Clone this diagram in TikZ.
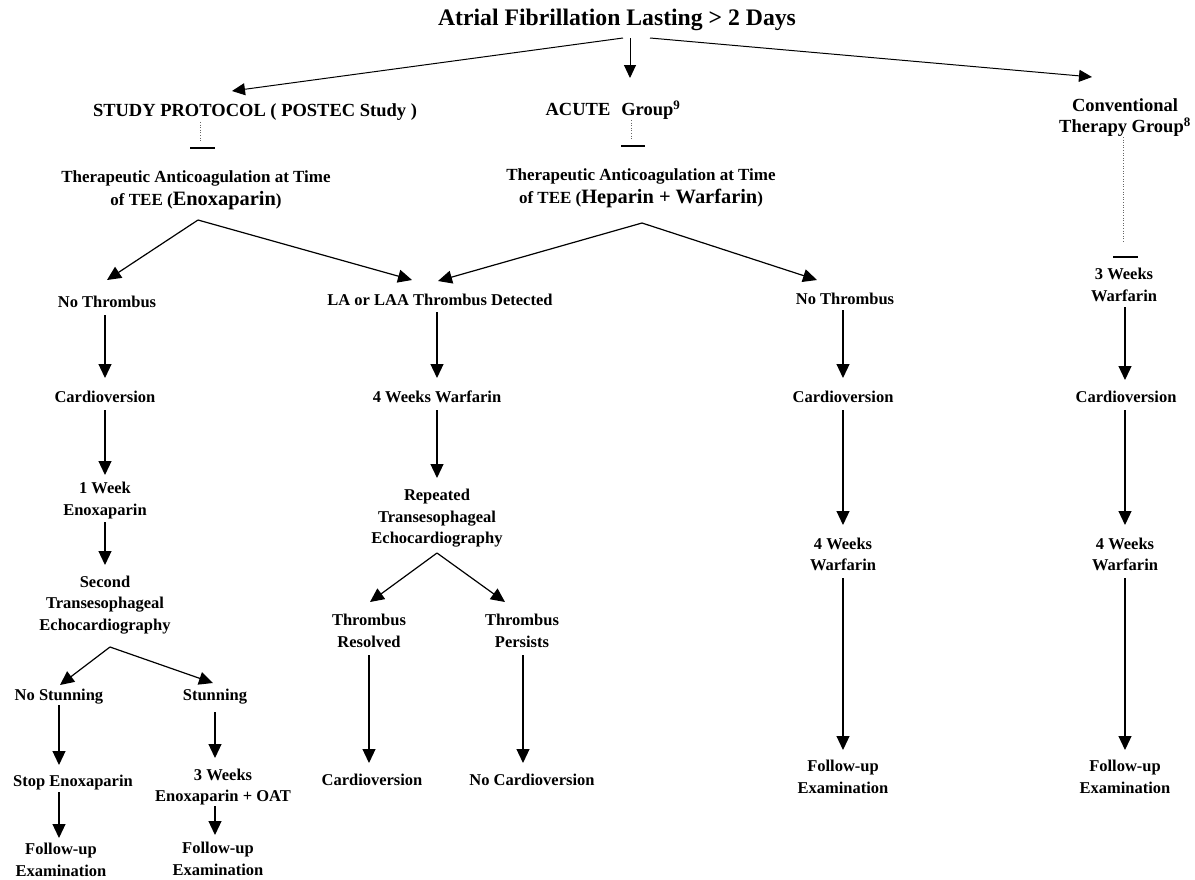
\documentclass[tikz,border=0pt]{standalone}
\usepackage{fontspec}
\setmainfont{Liberation Serif}
\usepackage{tikz}
\usetikzlibrary{arrows.meta}
\newcommand\titlefont{\fontsize{23.7}{27}\selectfont\bfseries}
\newcommand\grpfont{\fontsize{18.5}{21}\selectfont\bfseries}
\newcommand\therfont{\fontsize{17}{23}\selectfont\bfseries}
\newcommand\bodyfont{\fontsize{16.5}{21.5}\selectfont\bfseries}
\newcommand\drugfont{\fontsize{20.4}{24}\selectfont}
\tikzset{
  lbl/.style={inner sep=0pt, align=center, font=\bodyfont},
  grp/.style={inner sep=0pt, align=center, font=\grpfont},
  ther/.style={inner sep=0pt, align=center, font=\therfont},
  arr/.style={line width=1.2pt, -{Triangle[length=14pt,width=13pt]}},
  toparr/.style={line width=1pt, -{Triangle[length=13pt,width=12pt]}},
  dotline/.style={dotted, line width=0.6pt, black!60},
  tbar/.style={line width=2.2pt}
}
\begin{document}
\begin{tikzpicture}[x=1pt,y=-1pt]
\useasboundingbox (0,0) rectangle (1195,879);

% top of the chart
\node[inner sep=0pt, font=\titlefont] (title) at (617,20) {Atrial Fibrillation Lasting > 2 Days};
\node[grp] (study) at (255,112) {STUDY PROTOCOL ( POSTEC Study )};
\node[grp] (acute) at (613,110) {ACUTE\hspace{11pt}Group\textsuperscript{9}};
\node[grp] (conv) at (1125,117.5) {Conventional\\Therapy Group\textsuperscript{8}};

\draw[toparr] ([xshift=6pt,yshift=-18pt]title.center) -- ([xshift=-23pt,yshift=21pt]study.center);
\draw[toparr] ([xshift=13pt,yshift=-18pt]title.center) -- ([xshift=17pt,yshift=32pt]acute.center);
\draw[toparr] ([xshift=33pt,yshift=-18pt]title.center) -- ([xshift=-33pt,yshift=40.5pt]conv.center);

% dotted links ending in a bar
\draw[dotline] ([xshift=-55pt,yshift=-10pt]study.center) -- ++(0,20);
\draw[tbar] ([xshift=-65pt,yshift=-36pt]study.center) -- ++(25,0);
\draw[dotline] ([xshift=18pt,yshift=-10pt]acute.center) -- ++(0,20);
\draw[tbar] ([xshift=8pt,yshift=-36pt]acute.center) -- ++(24,0);
\draw[dotline] ([xshift=-2pt,yshift=-19.5pt]conv.center) -- ++(0,106);
\draw[tbar] ([xshift=-12pt,yshift=-139.5pt]conv.center) -- ++(25,0);

\node[ther] (ther1) at (196,190.5) {Therapeutic Anticoagulation at Time\\of TEE ({\drugfont Enoxaparin})};
\node[ther] (ther2) at (641,188.5) {Therapeutic Anticoagulation at Time\\of TEE ({\drugfont\bfseries Heparin + Warfarin})};

% second row
\node[lbl] (nt1) at (107,302) {No Thrombus};
\node[lbl] (la) at (440,300) {LA or LAA Thrombus Detected};
\node[lbl] (nt2) at (845,299) {No Thrombus};
\node[lbl] (w3) at (1124,285) {3 Weeks\\Warfarin};

\draw[arr] ([xshift=2pt,yshift=-29.5pt]ther1.center) -- ([yshift=22pt]nt1.center);
\draw[arr] ([xshift=2pt,yshift=-29.5pt]ther1.center) -- ([xshift=-28pt,yshift=20pt]la.center);
\draw[arr] ([xshift=1pt,yshift=-34.5pt]ther2.center) -- ([xshift=-2pt,yshift=19pt]la.center);
\draw[arr] ([xshift=1pt,yshift=-34.5pt]ther2.center) -- ([xshift=-28pt,yshift=19pt]nt2.center);

% left branch
\node[lbl] (cv1) at (105,397) {Cardioversion};
\node[lbl] (wk1) at (105,500.5) {1 Week\\Enoxaparin};
\node[lbl] (tee2) at (105,605) {Second\\Transesophageal\\Echocardiography};
\node[lbl] (nost) at (59,697) {No Stunning};
\node[lbl] (stun) at (215,697) {Stunning};
\node[lbl] (stop) at (73,783) {Stop Enoxaparin};
\node[lbl] (w3e) at (223,787) {3 Weeks\\Enoxaparin + OAT};
\node[lbl] (fu1) at (61,860) {Follow-up\\Examination};
\node[lbl] (fu2) at (218,859) {Follow-up\\Examination};

\draw[arr] ([xshift=-2pt,yshift=-13pt]nt1.center) -- ([yshift=19pt]cv1.center);
\draw[arr] ([yshift=-13pt]cv1.center) -- ([yshift=25.5pt]wk1.center);
\draw[arr] ([yshift=-21.5pt]wk1.center) -- ([yshift=40pt]tee2.center);
\draw[arr] ([xshift=5pt,yshift=-42pt]tee2.center) -- ([xshift=1pt,yshift=12pt]nost.center);
\draw[arr] ([xshift=5pt,yshift=-42pt]tee2.center) -- ([xshift=-2pt,yshift=14pt]stun.center);
\draw[arr] ([yshift=-8pt]nost.center) -- ([xshift=-14pt,yshift=18pt]stop.center);
\draw[arr] ([xshift=-14pt,yshift=-9pt]stop.center) -- ([xshift=-2pt,yshift=22pt]fu1.center);
\draw[arr] ([yshift=-15pt]stun.center) -- ([xshift=-8pt,yshift=29pt]w3e.center);
\draw[arr] ([xshift=-8pt,yshift=-19pt]w3e.center) -- ([xshift=-3pt,yshift=24pt]fu2.center);

% middle branch
\node[lbl] (w4) at (437,397) {4 Weeks Warfarin};
\node[lbl] (rte) at (437,518.5) {Repeated\\Transesophageal\\Echocardiography};
\node[lbl] (tres) at (369,631) {Thrombus\\Resolved};
\node[lbl] (tper) at (522,631) {Thrombus\\Persists};
\node[lbl] (cv4) at (372,780) {Cardioversion};
\node[lbl] (nocv) at (532,780) {No Cardioversion};

\draw[arr] ([xshift=-3pt,yshift=-12pt]la.center) -- ([yshift=19pt]w4.center);
\draw[arr] ([yshift=-13pt]w4.center) -- ([yshift=40.5pt]rte.center);
\draw[arr] ([yshift=-34.5pt]rte.center) -- ([xshift=1pt,yshift=29pt]tres.center);
\draw[arr] ([yshift=-34.5pt]rte.center) -- ([xshift=-17pt,yshift=29pt]tper.center);
\draw[arr] ([yshift=-24pt]tres.center) -- ([xshift=-3pt,yshift=17pt]cv4.center);
\draw[arr] ([xshift=1pt,yshift=-24pt]tper.center) -- ([xshift=-9pt,yshift=17pt]nocv.center);

% right branches
\node[lbl] (cv2) at (843,397) {Cardioversion};
\node[lbl] (w4b) at (843,554.5) {4 Weeks\\Warfarin};
\node[lbl] (fu3) at (843,777) {Follow-up\\Examination};
\node[lbl] (cv3) at (1126,397) {Cardioversion};
\node[lbl] (w4c) at (1125,554.5) {4 Weeks\\Warfarin};
\node[lbl] (fu4) at (1125,777) {Follow-up\\Examination};

\draw[arr] ([xshift=-2pt,yshift=-11pt]nt2.center) -- ([yshift=19pt]cv2.center);
\draw[arr] ([yshift=-13pt]cv2.center) -- ([yshift=29.5pt]w4b.center);
\draw[arr] ([yshift=-23.5pt]w4b.center) -- ([yshift=27pt]fu3.center);
\draw[arr] ([xshift=1pt,yshift=-22pt]w3.center) -- ([xshift=-1pt,yshift=17pt]cv3.center);
\draw[arr] ([xshift=-1pt,yshift=-13pt]cv3.center) -- ([yshift=29.5pt]w4c.center);
\draw[arr] ([yshift=-23.5pt]w4c.center) -- ([yshift=27pt]fu4.center);
\end{tikzpicture}
\end{document}
